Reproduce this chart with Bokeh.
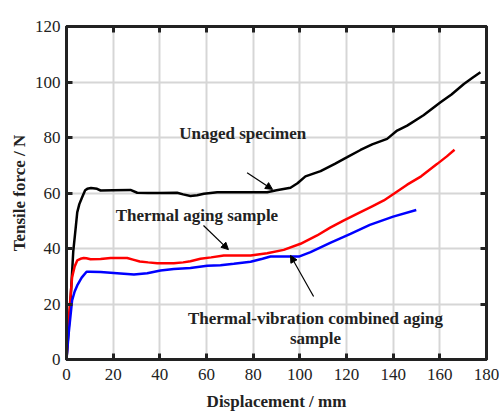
from bokeh.plotting import figure
from bokeh.models import Range1d, LinearAxis, Label, Arrow, NormalHead, FixedTicker
from bokeh.embed import file_html
from bokeh.resources import INLINE

black_x = [0, 1.5, 2.9, 4.0, 4.6, 5.5, 6.7, 8, 8.9, 10.5, 13.1, 14.6, 20, 27.4, 30.3, 35, 40, 47.4, 50, 53.1, 56, 58.9, 64.6, 70, 78.9, 86, 90, 96, 99, 102.4, 108.9, 115, 120.3, 126, 131, 137.4, 141.7, 146, 153, 160.3, 165, 170.3, 174, 177.4]
black_y = [0, 18, 39, 48, 53, 56, 58.5, 61, 61.5, 61.8, 61.5, 60.9, 61, 61.1, 60.1, 60, 60, 60.1, 59.5, 58.9, 59.2, 59.7, 60.3, 60.3, 60.3, 60.3, 61, 61.9, 63.5, 66, 67.9, 70.5, 72.9, 75.5, 77.5, 79.5, 82.5, 84.3, 88, 92.7, 95.5, 99.3, 101.5, 103.5]

red_x = [0, 1, 2.4, 3.5, 4.6, 6, 7.4, 8.5, 10.3, 14.6, 18.9, 26, 28.5, 31.4, 35, 38.9, 46, 50, 53.1, 57.4, 62, 67.4, 72, 78.9, 86, 93.1, 100.3, 107.4, 113, 118.9, 126, 131, 136, 140.3, 146, 152, 158.9, 163, 166.3]
red_y = [0, 15, 29.7, 33.5, 35.7, 36.3, 36.6, 36.5, 36.1, 36.2, 36.6, 36.6, 36, 35.3, 35, 34.7, 34.7, 35, 35.4, 36.3, 36.8, 37.5, 37.5, 37.5, 38.3, 39.5, 41.7, 44.7, 47.5, 50.1, 53.1, 55.2, 57.3, 59.7, 63.0, 66, 70.5, 73.2, 75.6]

blue_x = [0, 1, 2.4, 3.5, 4.6, 6.5, 8.6, 10, 14.6, 21.7, 28.9, 34.6, 40.3, 46, 53.1, 60.3, 66, 71.7, 78.9, 84, 87.4, 95, 99.6, 104.6, 113, 121.7, 130, 140, 149.9]
blue_y = [0, 10, 21.3, 24.5, 26.7, 29.5, 31.6, 31.6, 31.5, 31.1, 30.6, 31.1, 32.1, 32.6, 33, 33.8, 34, 34.5, 35.2, 36.3, 37.1, 37.1, 37.1, 38.7, 42, 45.3, 48.5, 51.5, 53.9]

x_ticks = [0, 20, 40, 60, 80, 100, 120, 140, 160, 180]
y_ticks = [0, 20, 40, 60, 80, 100, 120]

labels = ["Unaged specimen", "Thermal aging sample", "Thermal-vibration combined aging", "sample"]
label_pos = [(75.5, 81.4), (55.9, 51.9), (106.7, 14.8), (106.7, 7.6)]
arrows = [((77.4, 67.3), (88.3, 61.3)), ((58.7, 48.3), (69.4, 39.6)), ((105.9, 22.7), (96.0, 37.5))]

FONT = "Liberation Serif"
DARK = "#222222"

p = figure(width=499, height=413, output_backend="svg", toolbar_location=None,
           x_range=Range1d(0, 180), y_range=Range1d(0, 120),
           min_border_left=66, min_border_right=13, min_border_top=26, min_border_bottom=54)

p.xaxis.ticker = FixedTicker(ticks=x_ticks)
p.yaxis.ticker = FixedTicker(ticks=y_ticks)
p.axis.axis_line_width = 3
p.axis.axis_line_color = DARK
p.axis.major_tick_in = 6
p.axis.major_tick_out = 0
p.axis.major_tick_line_width = 3
p.axis.major_tick_line_color = DARK
p.axis.minor_tick_line_color = None
p.axis.major_label_text_font = FONT
p.axis.major_label_text_font_size = "17px"
p.axis.major_label_text_color = DARK
p.axis.axis_label_text_font = FONT
p.axis.axis_label_text_font_style = "bold"
p.axis.axis_label_text_font_size = "17px"
p.axis.axis_label_text_color = DARK

p.xaxis.axis_label = "Displacement / mm"
p.yaxis.axis_label = "Tensile force / N"
p.xaxis.major_label_standoff = 9
p.yaxis.major_label_standoff = 6
p.xaxis.axis_label_standoff = 9
p.yaxis.axis_label_standoff = 3

for loc, ticks in (("above", x_ticks), ("right", y_ticks)):
    a = LinearAxis(ticker=FixedTicker(ticks=ticks), axis_line_width=3, axis_line_color=DARK,
                   major_tick_in=6, major_tick_out=0, major_tick_line_width=3,
                   major_tick_line_color=DARK, minor_tick_line_color=None,
                   major_label_overrides={t: "" for t in ticks}, major_label_standoff=0)
    p.add_layout(a, loc)

p.xgrid.ticker = FixedTicker(ticks=x_ticks)
p.ygrid.ticker = FixedTicker(ticks=y_ticks)
p.grid.grid_line_color = "#d6d6d6"
p.grid.grid_line_width = 2
p.outline_line_color = DARK
p.outline_line_width = 3
p.background_fill_color = "white"
p.border_fill_color = "white"

p.line(black_x, black_y, line_color="black", line_width=2.5)
p.line(red_x, red_y, line_color="#ff0000", line_width=2.5)
p.line(blue_x, blue_y, line_color="#0000ff", line_width=2.5)

for t, (lx, ly) in zip(labels, label_pos):
    p.add_layout(Label(x=lx, y=ly, text=t, text_font=FONT, text_font_style="bold",
                       text_font_size="17px", text_color=DARK,
                       text_align="center", text_baseline="middle"))

for (s, e) in arrows:
    p.add_layout(Arrow(end=NormalHead(size=7, fill_color="black", line_color="black", line_width=1),
                       x_start=s[0], y_start=s[1], x_end=e[0], y_end=e[1],
                       line_color="black", line_width=1.2))

open("out.html", "w").write(file_html(p, INLINE))
